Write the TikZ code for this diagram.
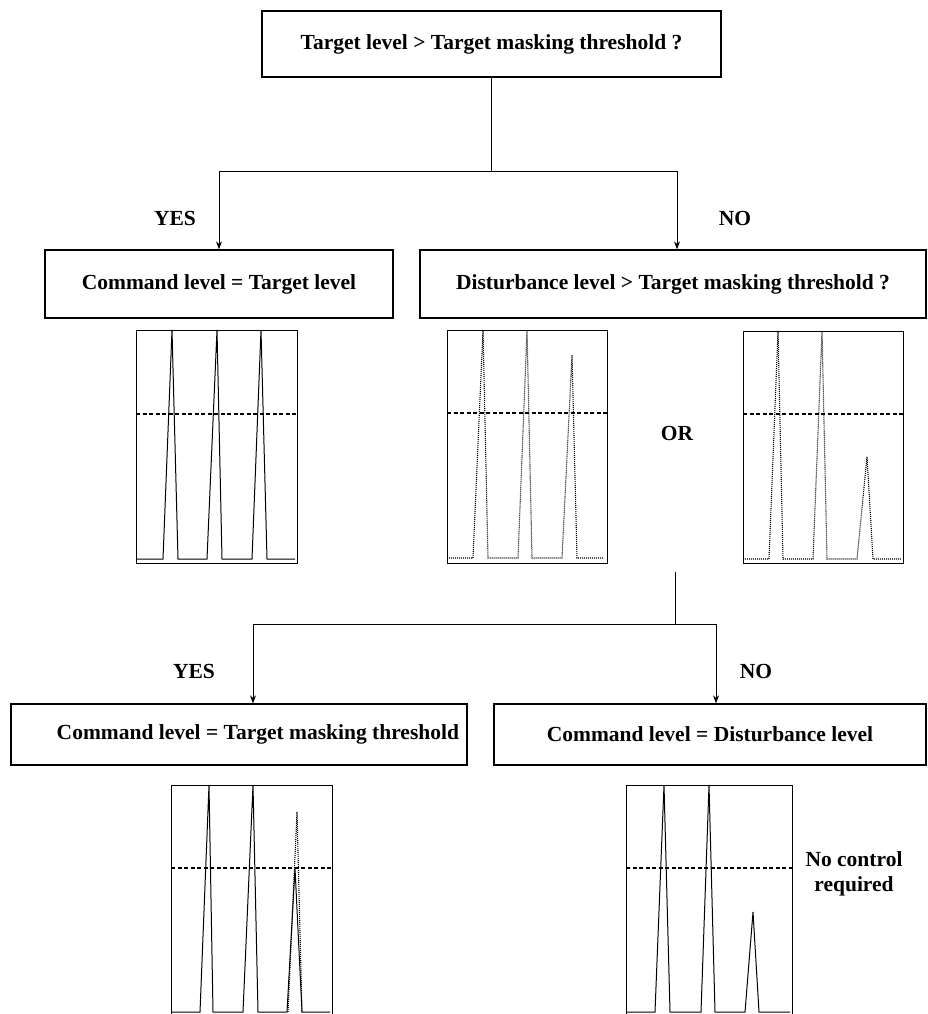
\documentclass[tikz,border=0pt]{standalone}
\usepackage{fontspec}
\setmainfont{Liberation Serif}
\usetikzlibrary{arrows.meta, positioning}

\begin{document}
\begin{tikzpicture}[x=1pt, y=-1pt,
      box/.style={draw, line width=1.3pt, inner sep=0pt, font=\fontsize{21.5}{25}\selectfont\bfseries},
      arrow/.style={-{Stealth[length=8pt, width=6pt]}, line width=0.9pt},
      tag/.style={font=\fontsize{21.5}{25}\selectfont\bfseries, align=center},
      frame/.style={line width=1pt},
      level/.style={line width=1.1pt, dash pattern=on 4pt off 2.5pt},
      target/.style={line width=1pt},
      disturb/.style={line width=1.1pt, dash pattern=on 1pt off 1pt}
    ]
    \useasboundingbox (0,0) rectangle (927,1014);

    % decision boxes
    \node[box, minimum width=459pt, minimum height=66pt] (q1) at (491.5,44) {Target level > Target masking threshold ?};
    \node[box, minimum width=348pt, minimum height=68pt] (a1) at (219,284) {Command level = Target level};
    \node[box, minimum width=506pt, minimum height=68pt] (q2) at (673,284) {Disturbance level > Target masking threshold ?};
    \node[box, minimum width=456pt, minimum height=61pt, text width=440pt, align=flush right] (b1) at (239,734.5) {Command level = Target masking threshold};
    \node[box, minimum width=432pt, minimum height=61pt] (b2) at (710,734.5) {Command level = Disturbance level};

    % yes/no branches
    \coordinate (fork1) at (491.5,171);
    \draw[line width=0.9pt] (q1.south) -- (fork1);
    \draw[arrow] (fork1) -| (a1.north);
    \draw[arrow] (fork1) -| ([xshift=4pt]q2.north);
    \node[tag] (yes1) at (175,218) {YES};
    \node[tag] (no1) at (735,218) {NO};

    \coordinate (stem2) at (675,572);
    \coordinate (fork2) at (675,624);
    \draw[line width=0.9pt] (stem2) -- (fork2);
    \draw[arrow] (fork2) -| ([xshift=14pt]b1.north);
    \draw[arrow] (fork2) -| ([xshift=6pt]b2.north);
    \node[tag] (yes2) at (194,671) {YES};
    \node[tag] (no2) at (756,671) {NO};

    \node[tag] (or) at (677,433) {OR};
    \node[tag] (none) at (854,874) {No control\\required};

    % level plots, row one
    \draw[frame] (136,330) rectangle (297,563);
    \draw[level] (136,414) -- (297,414);
    \draw[target] (136,559) -- (163,559) -- (172,330) -- (178,559) -- (207,559) -- (217,330)
      -- (222,559) -- (252,559) -- (261,330) -- (267,559) -- (295,559);

    \draw[frame] (447,330) rectangle (607,563);
    \draw[level] (447,413) -- (607,413);
    \draw[disturb] (447,558) -- (473,558) -- (483,330) -- (488,558) -- (518,558) -- (527,330)
      -- (532,558) -- (562,558) -- (572,355) -- (577,558) -- (603,558);

    \draw[frame] (743,331) rectangle (903,563);
    \draw[level] (743,414) -- (903,414);
    \draw[disturb] (743,559) -- (769,559) -- (778,331) -- (783,559) -- (813,559) -- (822,331)
      -- (827,559) -- (857,559) -- (867,457) -- (873,559) -- (901,559);

    % level plots, row two
    \draw[frame] (171,1014) -- (171,785) -- (332,785) -- (332,1014);
    \draw[level] (171,868) -- (332,868);
    \draw[target] (171,1012) -- (200,1012) -- (209,785) -- (213,1012) -- (243,1012) -- (253,785)
      -- (258,1012) -- (287,1012) -- (295,868) -- (302,1012) -- (330,1012);
    \draw[disturb] (288,1012) -- (297,812) -- (302,1012);

    \draw[frame] (626,1014) -- (626,785) -- (792,785) -- (792,1014);
    \draw[level] (626,868) -- (792,868);
    \draw[target] (626,1012) -- (655,1012) -- (664,785) -- (670,1012) -- (701,1012) -- (709,785)
      -- (715,1012) -- (745,1012) -- (753,912) -- (759,1012) -- (790,1012);
  \end{tikzpicture}
\end{document}
